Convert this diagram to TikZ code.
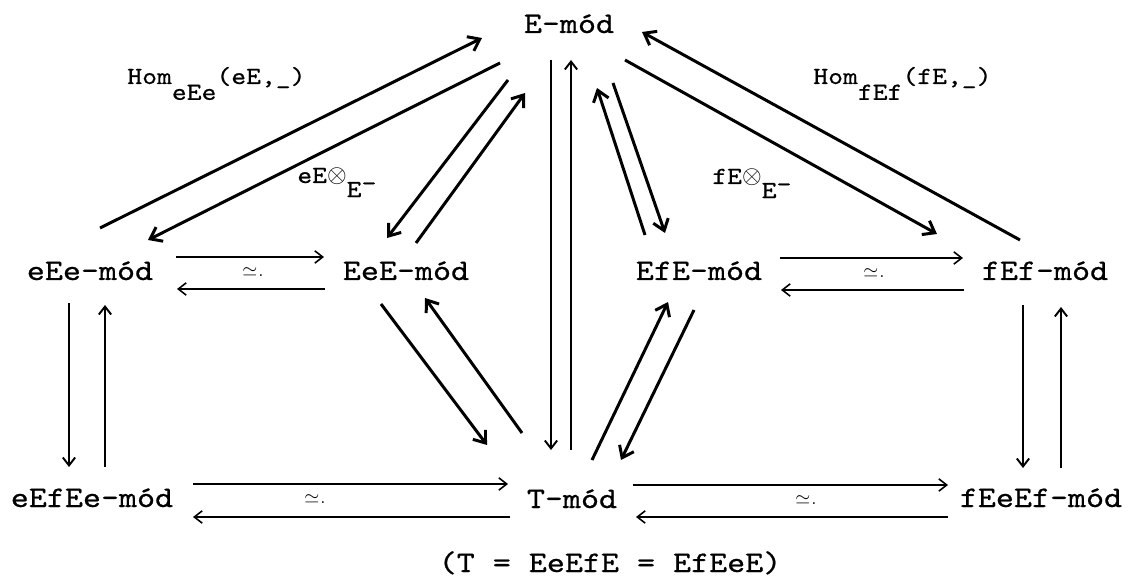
\documentclass[tikz,border=0pt]{standalone}
\usepackage{fontspec}
\setmonofont{lmmono10-regular}[Extension=.otf, FakeStretch=1.15, FakeBold=0.6]
\usetikzlibrary{arrows.meta,calc}
\begin{document}
\begin{tikzpicture}[x=0.02cm,y=-0.02cm,
  lbl/.style={font=\ttfamily\fontsize{17}{20}\selectfont, inner sep=0pt, anchor=base},
  fn/.style={font=\ttfamily\fontsize{14}{16}\selectfont, inner sep=0pt, anchor=base west},
  iso/.style={font=\fontsize{11}{13}\selectfont, inner sep=0pt},
  tarr/.style={-{Straight Barb[length=4.5pt,width=7pt]}, line width=0.9pt},
  karr/.style={-{Straight Barb[length=6pt,width=9pt]}, line width=1.7pt},
  varr/.style={-{Straight Barb[length=4.5pt,width=7pt]}, line width=1.1pt}
]
\useasboundingbox (0,0) rectangle (1136,577);

% nodes
\node[lbl] (E)     at (569,33)  {E-mód};
\node[lbl] (eEe)   at (90,280)  {eEe-mód};
\node[lbl] (EeE)   at (406,280) {EeE-mód};
\node[lbl] (EfE)   at (699,280) {EfE-mód};
\node[lbl] (fEf)   at (1045,280) {fEf-mód};
\node[lbl] (eEfEe) at (92,507)  {eEfEe-mód};
\node[lbl] (T)     at (572,508) {T-mód};
\node[lbl] (fEeEf) at (1041,507) {fEeEf-mód};
\node[lbl] (cap)   at (610,572) {(T = EeEfE = EfEeE)};

% functor labels
\node[fn] (homl) at (127,84) {Hom\raisebox{-9pt}{eEe}(eE,\_)};
\node[fn] (homr) at (813,84) {Hom\raisebox{-9pt}{fEf}(fE,\_)};
\node[fn] (tenl) at (297,183) {eE$\otimes$\raisebox{-8pt}{E\raisebox{3.5pt}{-}}};
\node[fn] (tenr) at (712,184) {fE$\otimes$\raisebox{-8pt}{E\raisebox{3.5pt}{-}}};

% top diagonals to/from E
\draw[karr] ($(eEe.base)+(10,-52)$) -- ($(E.base)+(-87,5)$);
\draw[karr] ($(E.base)+(-69,30)$) -- ($(eEe.base)+(58,-40)$);
\draw[karr] ($(E.base)+(-61,47)$) -- ($(EeE.base)+(-19,-42)$);
\draw[karr] ($(EeE.base)+(10,-37)$) -- ($(E.base)+(-44,60)$);
\draw[karr] ($(EfE.base)+(-54,-45)$) -- ($(E.base)+(28,55)$);
\draw[karr] ($(E.base)+(44,50)$) -- ($(EfE.base)+(-34,-47)$);
\draw[karr] ($(E.base)+(56,27)$) -- ($(fEf.base)+(-108,-46)$);
\draw[karr] ($(fEf.base)+(-25,-40)$) -- ($(E.base)+(73,-1)$);

% E <-> T verticals
\draw[varr] ($(E.base)+(-18,27)$) -- ($(T.base)+(-21,-58)$);
\draw[varr] ($(T.base)+(-1,-58)$) -- ($(E.base)+(2,27)$);

% middle row horizontals
\draw[tarr] ($(eEe.base)+(86,-23)$) -- ($(EeE.base)+(-82,-23)$);
\draw[tarr] ($(EeE.base)+(-81,9)$) -- ($(eEe.base)+(87,9)$);
\node[iso] (iso1) at (253,272) {$\simeq$\kern0.5pt.};
\draw[tarr] ($(EfE.base)+(81,-22)$) -- ($(fEf.base)+(-82,-22)$);
\draw[tarr] ($(fEf.base)+(-81,10)$) -- ($(EfE.base)+(82,10)$);
\node[iso] (iso2) at (874,273) {$\simeq$\kern0.5pt.};

% side verticals
\draw[varr] ($(eEe.base)+(-21,23)$) -- ($(eEfEe.base)+(-23,-40)$);
\draw[varr] ($(eEfEe.base)+(13,-40)$) -- ($(eEe.base)+(15,25)$);
\draw[varr] ($(fEf.base)+(-22,25)$) -- ($(fEeEf.base)+(-18,-39)$);
\draw[varr] ($(fEeEf.base)+(20,-39)$) -- ($(fEf.base)+(16,27)$);

% lower diagonals to/from T
\draw[karr] ($(EeE.base)+(-25,24)$) -- ($(T.base)+(-85,-63)$);
\draw[karr] ($(T.base)+(-50,-75)$) -- ($(EeE.base)+(19,18)$);
\draw[karr] ($(T.base)+(20,-48)$) -- ($(EfE.base)+(-31,22)$);
\draw[karr] ($(EfE.base)+(-5,30)$) -- ($(T.base)+(49,-48)$);

% bottom row horizontals
\draw[tarr] ($(eEfEe.base)+(101,-23)$) -- ($(T.base)+(-64,-24)$);
\draw[tarr] ($(T.base)+(-62,9)$) -- ($(eEfEe.base)+(101,10)$);
\node[iso] (iso3) at (315,499) {$\simeq$\kern0.5pt.};
\draw[tarr] ($(T.base)+(61,-23)$) -- ($(fEeEf.base)+(-93,-22)$);
\draw[tarr] ($(fEeEf.base)+(-93,10)$) -- ($(T.base)+(64,9)$);
\node[iso] (iso4) at (806,500) {$\simeq$\kern0.5pt.};
\end{tikzpicture}
\end{document}
